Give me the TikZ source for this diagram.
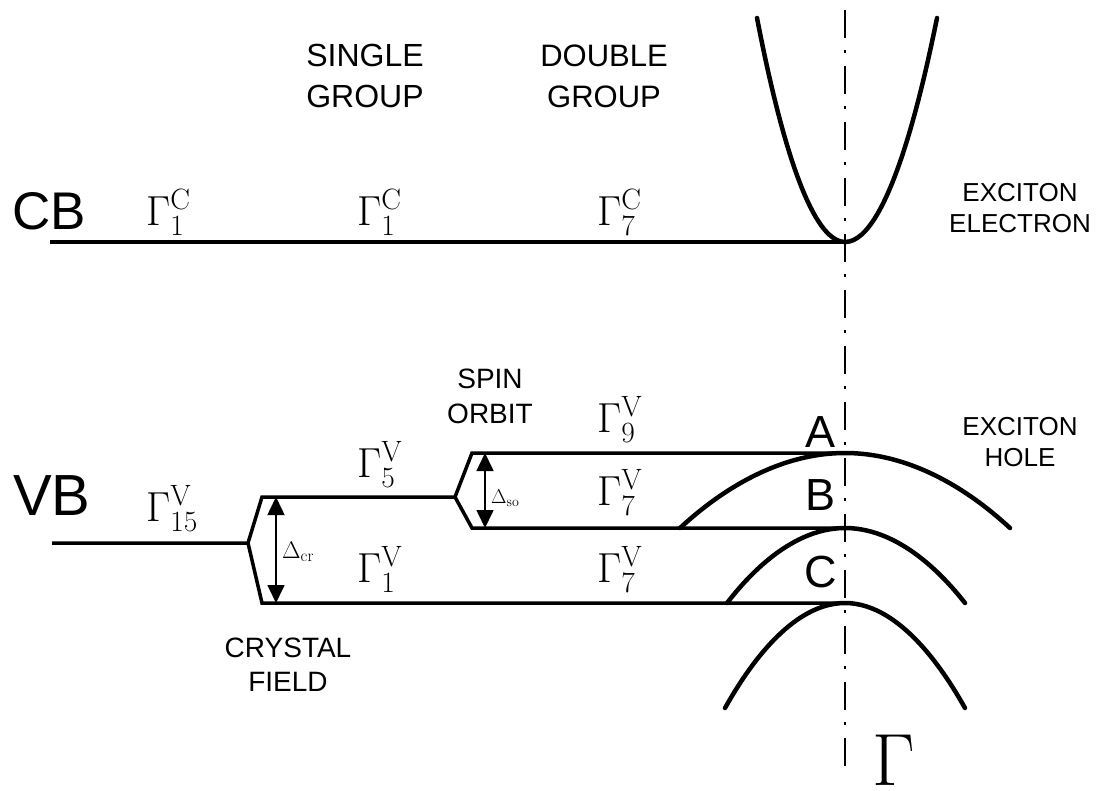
\RequirePackage{fix-cm}
\documentclass[tikz,border=0pt]{standalone}
\usepackage{fontspec}
\usepackage{tikz}
\usetikzlibrary{arrows.meta}
\newfontfamily\arial{Liberation Sans}

\tikzset{
  level/.style={line width=3.5pt},
  band/.style={line width=4.5pt, line cap=round},
  kaxis/.style={line width=2.5pt, dash pattern=on 28pt off 12pt on 3pt off 13pt},
  gap/.style={{Triangle[width=17pt,length=18pt]}-{Triangle[width=17pt,length=18pt]}, line width=1.6pt},
  irrep/.style={anchor=base west, inner sep=0pt, font=\fontsize{42}{42}\selectfont},
  gapname/.style={anchor=base west, inner sep=0pt},
  caption/.style={inner sep=0pt, align=center},
  bandname/.style={anchor=base west, inner sep=0pt},
  exciton/.style={anchor=base east, inner sep=0pt, font=\arial\fontsize{45}{45}\selectfont}
}

\begin{document}
\begin{tikzpicture}[x=1pt, y=-1pt]
\useasboundingbox (0,0) rectangle (1107,790);

% k = 0 axis
\coordinate (ktop) at (845,10);
\coordinate (kbot) at (845,767);
\draw[kaxis] (ktop) -- (kbot);

% conduction band
\coordinate (cb0) at (50,242);
\coordinate (cbk) at (845,242);
\draw[level] (cb0) -- (cbk);
\draw[band] (757,18) parabola bend (cbk) (937,18);

% valence band: crystal field and spin orbit splitting
\coordinate (vb0) at (52,543);
\coordinate (cfv) at (248,543);
\coordinate (g5a) at (262,497);
\coordinate (g1a) at (262,603);
\coordinate (sov) at (455,497);
\coordinate (g9a) at (472,453);
\coordinate (g7a) at (472,528);
\coordinate (g9k) at (845,453);
\coordinate (g7k) at (845,528);
\coordinate (g1k) at (845,603);
\draw[level] (vb0) -- (cfv) -- (g5a) -- (sov) -- (g9a) -- (g9k);
\draw[level] (cfv) -- (g1a) -- (g1k);
\draw[level] (sov) -- (g7a) -- (g7k);

% hole bands
\draw[band] (680,528) parabola bend (g9k) (1010,528);
\draw[band] (727,603) parabola bend (g7k) (965,603);
\draw[band] (725,708) parabola bend (g1k) (965,708);

% splittings
\coordinate (cftop) at (276,497);
\coordinate (cfbot) at (276,603);
\coordinate (sotop) at (485,453);
\coordinate (sobot) at (485,528);
\draw[gap] (cftop) -- (cfbot);
\draw[gap] (sotop) -- (sobot);
\node[gapname, font=\fontsize{24}{24}\selectfont] (dcr) at (282,558) {$\Delta_{\mathrm{cr}}$};
\node[gapname, font=\fontsize{20}{20}\selectfont] (dso) at (491,503) {$\Delta_{\mathrm{so}}$};

% band names
\node[bandname, font=\arial\fontsize{53}{53}\selectfont] (cb) at (12,229) {CB};
\node[bandname, font=\arial\fontsize{58}{58}\selectfont] (vb) at (13,515) {VB};

% irreducible representations
\node[irrep] (g1c) at (146,225) {$\Gamma_1^{\mathrm{C}}$};
\node[irrep] (g1cs) at (357,225) {$\Gamma_1^{\mathrm{C}}$};
\node[irrep] (g7c) at (597,225) {$\Gamma_7^{\mathrm{C}}$};
\node[irrep] (g15v) at (146,521) {$\Gamma_{15}^{\mathrm{V}}$};
\node[irrep] (g5v) at (357,477) {$\Gamma_5^{\mathrm{V}}$};
\node[irrep] (g1v) at (357,582) {$\Gamma_1^{\mathrm{V}}$};
\node[irrep] (g9v) at (597,432) {$\Gamma_9^{\mathrm{V}}$};
\node[irrep] (g7v) at (597,505) {$\Gamma_7^{\mathrm{V}}$};
\node[irrep] (g7vs) at (597,582) {$\Gamma_7^{\mathrm{V}}$};

% captions
\node[caption, font=\arial\fontsize{32}{41}\selectfont] (single) at (365,76) {SINGLE\\GROUP};
\node[caption, font=\arial\fontsize{31}{41}\selectfont] (double) at (604,76) {DOUBLE\\GROUP};
\node[caption, font=\arial\fontsize{28}{35}\selectfont] (spin) at (490,396) {SPIN\\ORBIT};
\node[caption, font=\arial\fontsize{28}{34}\selectfont] (cryst) at (288,665) {CRYSTAL\\FIELD};
\node[caption, font=\arial\fontsize{26}{31}\selectfont] (elec) at (1020,208) {EXCITON\\ELECTRON};
\node[caption, font=\arial\fontsize{26}{31}\selectfont] (hole) at (1020,442) {EXCITON\\HOLE};

% excitons
\node[exciton] (xa) at (836,447) {A};
\node[exciton] (xb) at (836,510) {B};
\node[exciton] (xc) at (837,587) {C};

\node[anchor=base west, inner sep=0pt, font=\fontsize{74}{74}\selectfont] (gam) at (872,785) {$\Gamma$};
\end{tikzpicture}
\end{document}
